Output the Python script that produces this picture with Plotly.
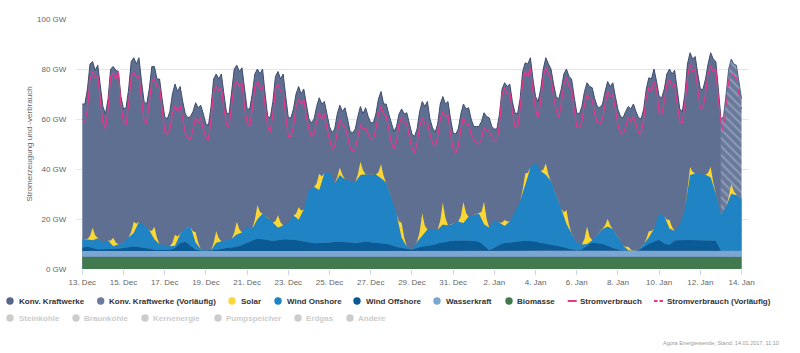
import pandas as pd
import plotly.graph_objects as go

# ---------------- Zeitachsen ----------------
t3 = pd.date_range("2016-12-13 00:00", "2017-01-14 00:00", freq="3h")   # 257 Punkte
t6 = pd.date_range("2016-12-13 00:00", "2017-01-14 00:00", freq="6h")   # 129 Punkte
td = pd.date_range("2016-12-13", "2017-01-14", freq="D")                # 33 Punkte

# ---------------- Daten (GW) ----------------
# Obergrenze der Erzeugung (oberer Rand der Fläche "Konv. Kraftwerke"), 3-h-Werte 00,03,...,21
erzeugung_gesamt = [
    66, 66, 72, 82, 83, 79.5, 81.5, 74,          # 13 Dec
    65, 62, 68, 80, 81, 79.5, 79, 69,            # 14 Dec
    64, 64.5, 72, 83, 84.5, 82, 84.5, 75,        # 15 Dec
    67, 66, 72, 81, 81, 76, 76, 68,              # 16 Dec
    61, 60, 63, 70, 74, 71, 73, 67,              # 17 Dec
    62, 60.5, 61, 63, 66.5, 64.5, 65.5, 62,      # 18 Dec
    58, 57.5, 65, 76, 78, 76, 78, 70,            # 19 Dec
    62.5, 62, 70, 80, 81.5, 79, 80.5, 71,        # 20 Dec
    64, 64, 70, 78, 80, 78, 80, 70,              # 21 Dec
    61, 60.5, 67, 77, 79, 76, 78, 69,            # 22 Dec
    60.5, 60.5, 64, 70, 73, 70, 72, 66,          # 23 Dec
    60, 58.5, 60, 65, 68.5, 66, 67, 62,          # 24 Dec
    57, 54.5, 56, 62, 65.5, 63, 64.5, 60,        # 25 Dec
    55, 54.5, 56, 61, 65, 62, 64.5, 61,          # 26 Dec
    58.5, 58.5, 62, 68, 71, 66, 66, 62,          # 27 Dec
    58, 55, 57, 62, 64, 62, 62.5, 58,            # 28 Dec
    54, 53, 56, 63, 67, 65, 67, 60,              # 29 Dec
    56.5, 54.7, 58, 66, 69, 66, 67, 60,          # 30 Dec
    54.5, 54, 56, 62, 66, 64, 64.5, 60,          # 31 Dec
    57, 57, 57, 59, 62.5, 61, 60.5, 57,          # 1 Jan
    56, 56, 62, 72, 74.5, 73, 74, 67,            # 2 Jan
    62.5, 62, 68, 79, 82.5, 82, 84.5, 76,        # 3 Jan
    69, 67, 72, 80, 84.5, 82, 80, 74,            # 4 Jan
    69, 68, 72, 78, 80, 77, 76, 69,              # 5 Jan
    62.5, 62, 65, 71, 74.5, 73, 72.5, 68,        # 6 Jan
    65, 64.5, 66, 71, 75, 73, 74.5, 69,          # 7 Jan
    63.8, 61, 60.5, 63, 65, 64, 66, 63,          # 8 Jan
    60.5, 60, 64, 72, 76.5, 76, 80, 75,          # 9 Jan
    69, 68.5, 72, 78, 80, 78, 79.5, 72,          # 10 Jan
    64, 63, 70, 82, 86.5, 84, 85, 78,            # 11 Jan
    72, 71.8, 76, 82, 86.5, 84, 83, 72,          # 12 Jan
    60, 61, 70, 80, 84, 82, 81.5, 75,            # 13 Jan (vorläufig)
    68,                                          # 14 Jan 00:00
]

stromverbrauch = [
    60, 58.7, 64, 76, 79, 76.5, 77, 67,          # 13 Dec
    58.5, 56, 64, 77, 78.5, 76, 79, 66,          # 14 Dec
    58.5, 57.8, 66, 77, 78.7, 76.5, 77, 68,      # 15 Dec
    59, 58.5, 66, 75, 76, 73, 72.5, 63,          # 16 Dec
    55, 53.8, 56, 62, 65.4, 63, 65.4, 60,        # 17 Dec
    54.5, 52, 52, 56, 60.5, 58.5, 60.5, 56,      # 18 Dec
    52.5, 51.8, 60, 71, 73.4, 71, 72.5, 64,      # 19 Dec
    57.8, 57, 65, 74, 75, 73, 74.5, 65,          # 20 Dec
    58.5, 57, 64, 73, 75, 72, 73.4, 64,          # 21 Dec
    57, 54.7, 62, 72, 74, 71, 71, 61,            # 22 Dec
    53, 53, 57, 65, 68, 66, 68, 61,              # 23 Dec
    56, 53, 54, 59, 62.5, 60, 62, 56,            # 24 Dec
    51.8, 48, 49, 55, 60, 57.5, 57, 53,          # 25 Dec
    48.5, 47, 48, 53, 57.8, 56, 56.5, 54,        # 26 Dec
    51.8, 51.8, 56, 62, 65, 62, 61, 56,          # 27 Dec
    50.5, 48, 51, 58, 60.5, 59, 58, 53,          # 28 Dec
    48.5, 46.5, 50, 57, 60.5, 58, 58.5, 54,      # 29 Dec
    50.5, 49, 53, 60, 63, 61, 61.5, 54,          # 30 Dec
    47.8, 46.5, 49, 56, 60.5, 58, 58, 54,        # 31 Dec
    51.8, 50.5, 50, 52, 56.5, 55.5, 55, 53,      # 1 Jan
    51, 51, 58, 70, 72.5, 70, 70.5, 63,          # 2 Jan
    57, 56.5, 64, 75, 79, 77, 80.5, 71,          # 3 Jan
    63.8, 60.5, 67, 77, 80.5, 78, 76.5, 69,      # 4 Jan
    63.8, 60.5, 66, 74, 76.5, 73, 72, 64,        # 5 Jan
    57, 56.5, 59, 66, 69.8, 68, 67.8, 62,        # 6 Jan
    58.5, 58, 60, 66, 71, 69, 69.8, 64,          # 7 Jan
    57.8, 54.5, 54, 57, 60.5, 59, 61, 58,        # 8 Jan
    54.5, 54, 60, 69, 72.5, 71, 75, 72,          # 9 Jan
    62.5, 62, 67, 74, 75.8, 73, 74, 66,          # 10 Jan
    59, 58.5, 66, 77, 81.8, 79, 80, 72,          # 11 Jan
    64.4, 64.4, 70, 78, 81.3, 79, 80, 68,        # 12 Jan
    58.5, 55, 64, 75, 79, 77, 76.5, 70,          # 13 Jan (vorläufig)
    64,                                          # 14 Jan 00:00
]

solar = [
    0, 0, 0, 1.5, 5, 1.6, 0, 0,        # 13 Dec
    0, 0, 0, 1, 3.4, 1.1, 0, 0,        # 14 Dec
    0, 0, 0, 1.3, 4.4, 1.4, 0, 0,      # 15 Dec
    0, 0, 0, 1.5, 5, 1.6, 0, 0,        # 16 Dec
    0, 0, 0, 1.3, 4.4, 1.4, 0, 0,      # 17 Dec
    0, 0, 0, 1.2, 4.2, 1.3, 0, 0,      # 18 Dec
    0, 0, 0, 1.4, 4.6, 1.5, 0, 0,      # 19 Dec
    0, 0, 0, 1.5, 5, 1.6, 0, 0,        # 20 Dec
    0, 0, 0, 1.7, 5.7, 1.8, 0, 0,      # 21 Dec
    0, 0, 0, 1.5, 5, 1.6, 0, 0,        # 22 Dec
    0, 0, 0, 1.5, 5, 1.6, 0, 0,        # 23 Dec
    0, 0, 0, 2, 6.5, 2.1, 0, 0,        # 24 Dec
    0, 0, 0, 0.9, 3, 1, 0, 0,          # 25 Dec
    0, 0, 0, 1.6, 5.3, 1.7, 0, 0,      # 26 Dec
    0, 0, 0, 1.6, 5.5, 1.8, 0, 0,      # 27 Dec
    0, 0, 0, 1.8, 6, 1.9, 0, 0,        # 28 Dec
    0, 0, 0, 2.7, 9, 2.9, 0, 0,        # 29 Dec
    0, 0, 0, 2.6, 8.8, 2.8, 0, 0,      # 30 Dec
    0, 0, 0, 2.5, 8.5, 2.7, 0, 0,      # 31 Dec
    0, 0, 0, 2.7, 9, 2.9, 0, 0,        # 1 Jan
    0, 0, 0, 0.7, 2.4, 0.8, 0, 0,      # 2 Jan
    0, 0, 0, 1.5, 5, 1.6, 0, 0,        # 3 Jan
    0, 0, 0, 1.3, 4.5, 1.4, 0, 0,      # 4 Jan
    0, 0, 0, 1.6, 5.5, 1.8, 0, 0,      # 5 Jan
    0, 0, 0, 2.1, 7, 2.2, 0, 0,        # 6 Jan
    0, 0, 0, 0.9, 3, 1, 0, 0,          # 7 Jan
    0, 0, 0, 0.4, 1.4, 0.4, 0, 0,      # 8 Jan
    0, 0, 0, 0.7, 2.5, 0.8, 0, 0,      # 9 Jan
    0, 0, 0, 1, 3.5, 1.1, 0, 0,        # 10 Jan
    0, 0, 0, 1, 3.2, 1, 0, 0,          # 11 Jan
    0, 0, 0, 1.3, 4.2, 1.3, 0, 0,      # 12 Jan
    0, 0, 0, 1.2, 4, 1.3, 0, 0,        # 13 Jan
    0,                                 # 14 Jan 00:00
]

# 6-h-Werte 00,06,12,18
wind_onshore = [
    3.5, 3.0, 3.0, 4.5,      # 13 Dec
    2.5, 3.5, 1.1, 1.8,      # 14 Dec
    2.2, 3.7, 5.5, 10.1,     # 15 Dec
    9.0, 7.2, 4.2, 2.2,      # 16 Dec
    1.7, 1.4, 0.9, 3.5,      # 17 Dec
    5.5, 7.5, 2.9, 0.7,      # 18 Dec
    0.1, 0.2, 3.0, 3.0,      # 19 Dec
    3.0, 3.5, 5.0, 5.0,      # 20 Dec
    6.5, 4.5, 7.8, 10.0,     # 21 Dec
    9.0, 7.4, 5.0, 5.5,      # 22 Dec
    6.7, 9.7, 8.3, 12.9,     # 23 Dec
    21.2, 22.5, 21.3, 28.0,  # 24 Dec
    28.2, 23.4, 26.7, 24.9,  # 25 Dec
    24.7, 24.5, 27.0, 27.0,  # 26 Dec
    27.0, 27.3, 26.2, 24.2,  # 27 Dec
    19.5, 13.2, 4.0, 1.0,    # 28 Dec
    0.0, 2.5, 4.3, 6.5,      # 29 Dec
    6.0, 5.6, 7.1, 6.4,      # 30 Dec
    6.7, 7.5, 7.0, 9.5,      # 31 Dec
    10.5, 11.3, 8.5, 9.0,    # 1 Jan
    11.0, 8.7, 6.8, 8.5,     # 2 Jan
    11.7, 15.9, 21.9, 29.4,  # 3 Jan
    31.7, 28.7, 27.7, 25.5,  # 4 Jan
    19.8, 15.1, 9.7, 6.2,    # 5 Jan
    3.0, 2.0, 0.5, 1.0,      # 6 Jan
    3.3, 6.0, 7.6, 7.5,      # 7 Jan
    5.2, 2.0, 0.2, 0.0,      # 8 Jan
    0.0, 1.3, 2.5, 5.0,      # 9 Jan
    10.6, 11.0, 6.5, 3.8,    # 10 Jan
    6.1, 12.6, 26.0, 26.6,   # 11 Jan
    26.4, 26.1, 25.1, 18.8,  # 12 Jan
    14.3, 17.8, 22.8, 22.3,  # 13 Jan
    20.8,                    # 14 Jan 00:00
]

wind_offshore = [
    1.3, 1.8, 1.3, 0.6,      # 13 Dec
    0.8, 0.8, 0.8, 0.8,      # 14 Dec
    1.1, 1.6, 1.8, 1.6,      # 15 Dec
    1.3, 1.1, 0.6, 0.6,      # 16 Dec
    0.6, 0.6, 1.3, 3.3,      # 17 Dec
    3.8, 2.3, 0.6, 0.1,      # 18 Dec
    0.0, 0.1, 0.3, 0.8,      # 19 Dec
    1.3, 1.3, 1.6, 2.3,      # 20 Dec
    3.3, 4.3, 4.8, 4.8,      # 21 Dec
    4.3, 3.9, 4.3, 4.8,      # 22 Dec
    4.6, 4.6, 4.3, 3.9,      # 23 Dec
    3.6, 3.3, 3.3, 3.3,      # 24 Dec
    3.6, 3.9, 3.9, 3.9,      # 25 Dec
    3.6, 3.3, 3.6, 3.8,      # 26 Dec
    3.6, 3.3, 3.1, 3.1,      # 27 Dec
    2.3, 1.6, 1.3, 0.8,      # 28 Dec
    0.6, 1.3, 1.8, 2.1,      # 29 Dec
    2.3, 3.0, 3.5, 3.9,      # 30 Dec
    4.1, 4.3, 4.3, 4.3,      # 31 Dec
    4.1, 3.8, 2.3, 0.3,      # 1 Jan
    1.3, 2.6, 3.1, 3.3,      # 2 Jan
    3.6, 3.9, 3.9, 3.9,      # 3 Jan
    3.6, 3.1, 2.6, 2.3,      # 4 Jan
    2.0, 1.7, 1.1, 0.6,      # 5 Jan
    0.3, 0.6, 2.3, 3.3,      # 6 Jan
    3.3, 2.8, 2.3, 1.3,      # 7 Jan
    0.6, 0.3, 0.1, 0.0,      # 8 Jan
    0.2, 1.3, 2.8, 3.8,      # 9 Jan
    4.2, 2.8, 2.3, 4.0,      # 10 Jan
    4.2, 4.2, 4.2, 4.2,      # 11 Jan
    4.2, 4.2, 4.2, 4.0,      # 12 Jan
    0.0, 0.0, 0.0, 0.0,      # 13 Jan
    0.0,                     # 14 Jan 00:00
]

# Tageswerte 00:00
wasserkraft = [2.3, 2.3, 2.3, 2.2, 2.2, 2.2, 2.3, 2.3, 2.3, 2.3, 2.3, 2.2, 2.2, 2.2, 2.3, 2.3, 2.3,
               2.3, 2.3, 2.3, 2.3, 2.4, 2.4, 2.4, 2.3, 2.3, 2.3, 2.4, 2.4, 2.4, 2.4, 2.4, 2.4]
biomasse = [4.9, 4.9, 5.0, 5.0, 4.9, 4.9, 4.9, 5.0, 5.0, 5.0, 4.9, 4.8, 4.8, 4.8, 4.8, 4.9, 4.9,
            4.9, 4.9, 4.8, 4.9, 5.0, 5.0, 5.0, 4.9, 4.9, 4.8, 4.9, 5.0, 5.0, 5.0, 4.9, 4.9]

assert len(erzeugung_gesamt) == len(t3) == len(stromverbrauch) == len(solar)
assert len(wind_onshore) == len(t6) == len(wind_offshore)
assert len(wasserkraft) == len(td) == len(biomasse)

legend_row1 = ["Konv. Kraftwerke", "Konv. Kraftwerke (Vorläufig)", "Solar", "Wind Onshore",
               "Wind Offshore", "Wasserkraft", "Biomasse", "Stromverbrauch", "Stromverbrauch (Vorläufig)"]
legend_row2 = ["Steinkohle", "Braunkohle", "Kernenergie", "Pumpspeicher", "Erdgas", "Andere"]

# ---------------- Farben ----------------
C_KONV = "#5e6f92"
C_KONV_LINE = "#3e4d70"
C_SOLAR = "#fad732"
C_ON = "#2083c4"
C_OFF = "#0a5a96"
C_WASSER = "#7aa6d1"
C_BIO = "#407a4e"
C_VERB = "#e3388c"

# split index for preliminary data (13 Jan 00:00)
SPLIT = 248

fig = go.Figure()

# Konventionelle Kraftwerke (obere Fläche bis Gesamterzeugung)
fig.add_trace(go.Scatter(
    x=t3[:SPLIT + 1], y=erzeugung_gesamt[:SPLIT + 1], name=legend_row1[0],
    mode="lines", fill="tozeroy", fillcolor=C_KONV,
    line=dict(color=C_KONV_LINE, width=1), hoverinfo="skip", showlegend=False))
fig.add_trace(go.Scatter(
    x=t3[SPLIT:], y=erzeugung_gesamt[SPLIT:], name=legend_row1[1],
    mode="lines", fill="tozeroy",
    fillpattern=dict(shape="\\", bgcolor="#69799b", fgcolor="#b3bccf", size=6, solidity=0.35),
    line=dict(color="#53638a", width=1), hoverinfo="skip", showlegend=False))

stack = [
    (td, biomasse, "Biomasse", C_BIO),
    (td, wasserkraft, "Wasserkraft", C_WASSER),
    (t6, wind_offshore, "Wind Offshore", C_OFF),
    (t6, wind_onshore, "Wind Onshore", C_ON),
    (t3, solar, "Solar", C_SOLAR),
]
for x, y, nm, col in stack:
    fig.add_trace(go.Scatter(
        x=x, y=y, name=nm, mode="lines", stackgroup="erzeugung", stackgaps="interpolate",
        fillcolor=col, line=dict(color=col, width=0), hoverinfo="skip", showlegend=False))

fig.add_trace(go.Scatter(
    x=t3[:SPLIT + 1], y=stromverbrauch[:SPLIT + 1], name=legend_row1[7], mode="lines",
    line=dict(color=C_VERB, width=1.2), hoverinfo="skip", showlegend=False))
fig.add_trace(go.Scatter(
    x=t3[SPLIT:], y=stromverbrauch[SPLIT:], name=legend_row1[8], mode="lines",
    line=dict(color=C_VERB, width=1.2, dash="dash"), hoverinfo="skip", showlegend=False))

# ---------------- Layout ----------------
L, R, T, B = 76, 51, 19, 84
W, H = 800, 353
PW, PH = W - L - R, H - T - B


def px(xp):
    return (xp - L) / PW


def py(yp):
    return (H - B - yp) / PH


FONT = "Liberation Sans, Arial, sans-serif"
shapes, annots = [], []
r = 3.7


def circle(cx, cy, col):
    shapes.append(dict(type="circle", xref="paper", yref="paper",
                       x0=px(cx - r), x1=px(cx + r), y0=py(cy + r), y1=py(cy - r),
                       fillcolor=col, line=dict(width=0), layer="above"))


def label(x, y, text, col):
    annots.append(dict(text="<b>%s</b>" % text, xref="paper", yref="paper", x=px(x), y=py(y),
                       xanchor="left", yanchor="middle", showarrow=False, borderpad=0, borderwidth=0,
                       font=dict(family=FONT, size=8, color=col)))


y1, y2 = 301, 318
row1_pos = [(10, 18.7, "#55668a"), (100.7, 109, "#6c7a9c"), (232, 240.7, "#fcd638"),
            (278, 287, "#1e82c4"), (357, 365.7, "#0b5894"), (437, 445.7, "#78a7d3"),
            (509, 517, "#3e7a4b")]
for (cx, tx, col), nm in zip(row1_pos, legend_row1[:7]):
    circle(cx, y1, col)
    label(tx, y1, nm, "#333333")
# line symbols
shapes.append(dict(type="line", xref="paper", yref="paper", x0=px(567.7), x1=px(576.7),
                   y0=py(y1), y1=py(y1), line=dict(color=C_VERB, width=2)))
label(580, y1, legend_row1[7], "#333333")
for a, b in [(654, 657.5), (659.5, 663)]:
    shapes.append(dict(type="line", xref="paper", yref="paper", x0=px(a), x1=px(b),
                       y0=py(y1), y1=py(y1), line=dict(color=C_VERB, width=2)))
label(666.7, y1, legend_row1[8], "#333333")

row2_pos = [(10, 19), (76, 84), (145, 153), (218, 226), (298, 306), (350, 358)]
for (cx, tx), nm in zip(row2_pos, legend_row2):
    circle(cx, y2, "#cccccc")
    label(tx, y2, nm, "#cccccc")

annots.append(dict(text="Agora Energiewende; Stand: 14.01.2017, 11:10", xref="paper", yref="paper",
                   x=px(779), y=py(343), xanchor="right", yanchor="middle", showarrow=False,
                   borderpad=0, borderwidth=0, font=dict(family=FONT, size=5.5, color="#999999")))

fig.update_layout(
    width=W, height=H, margin=dict(l=L, r=R, t=T, b=B),
    paper_bgcolor="white", plot_bgcolor="white",
    font=dict(family=FONT, size=8, color="#666666"),
    showlegend=False, shapes=shapes, annotations=annots,
    xaxis=dict(type="date", range=["2016-12-12 16:40", "2017-01-14 08:40"],
               tick0="2016-12-13", dtick=2 * 86400000, tickformat="%-d. %b",
               ticks="outside", ticklen=5, tickcolor="#ccd6eb", showgrid=False,
               showline=False, zeroline=False, tickfont=dict(size=8, color="#666666")),
    yaxis=dict(range=[0, 100], dtick=20, ticksuffix=" GW", showgrid=True, gridcolor="#e6e6e6",
               gridwidth=1, zeroline=False, showline=False, ticks="outside", ticklen=7,
               tickcolor="rgba(0,0,0,0)", tickfont=dict(size=8, color="#666666"),
               title=dict(text="Stromerzeugung und -verbrauch", standoff=3,
                          font=dict(size=8, color="#666666"))),
)

fig.write_html("out.html")
